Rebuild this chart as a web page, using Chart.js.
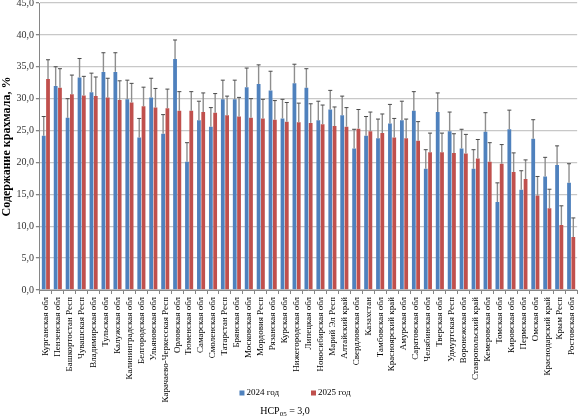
<!DOCTYPE html>
<html>
<head>
<meta charset="utf-8">
<script src="https://cdn.jsdelivr.net/npm/chart.js@4"></script>
<style>
  html, body { margin: 0; padding: 0; background: #fff; }
  #wrap { width: 585px; height: 417px; position: relative; }
</style>
</head>
<body>
<div id="wrap"><canvas id="starch-chart"></canvas></div>
<script>
const categories = [
    'Курганская обл', 'Пензенская обл', 'Башкортостан Респ', 'Чувашская Респ', 'Владимирская обл',
    'Тульская обл', 'Калужская обл', 'Калининградская обл', 'Белгородская обл', 'Ульяновская обл',
    'Карачаево-Черкесская Респ', 'Орловская обл', 'Тюменская обл', 'Самарская обл', 'Смоленская обл',
    'Татарстан Респ', 'Брянская обл', 'Московская обл', 'Мордовия Респ', 'Рязанская обл',
    'Курская обл', 'Нижегородская обл', 'Липецкая обл', 'Новосибирская обл', 'Марий Эл Респ',
    'Алтайский край', 'Свердловская обл', 'Казахстан', 'Тамбовская обл', 'Красноярский край',
    'Амурская обл', 'Саратовская обл', 'Челябинская обл', 'Тверская обл', 'Удмуртская Респ',
    'Воронежская обл', 'Ставропольский край', 'Кемеровская обл', 'Томская обл', 'Кировская обл',
    'Пермская обл', 'Омская обл', 'Краснодарский край', 'Крым Респ', 'Ростовская обл'
];

const values2024 = [
    24.2, 32.0, 27.0, 33.3, 31.0, 34.2, 34.2, 29.9, 23.9, 30.2,
    24.5, 36.2, 20.1, 26.6, 25.6, 29.9, 29.9, 31.8, 32.3, 31.3,
    26.9, 32.4, 31.7, 26.6, 28.3, 27.4, 22.2, 24.2, 23.8, 26.1,
    26.6, 28.1, 19.0, 27.9, 24.9, 22.2, 19.0, 24.8, 13.8, 25.2,
    15.7, 23.7, 17.8, 19.6, 16.8
];

const values2025 = [
    33.1, 31.7, 30.7, 30.5, 30.4, 30.2, 29.8, 29.4, 28.8, 28.6,
    28.5, 28.1, 28.1, 27.9, 27.8, 27.4, 27.2, 27.0, 26.9, 26.7,
    26.4, 26.3, 26.2, 26.0, 25.7, 25.6, 25.3, 24.9, 24.6, 23.9,
    23.8, 23.4, 21.6, 21.6, 21.5, 21.4, 20.6, 20.1, 19.8, 18.5,
    17.4, 14.8, 12.8, 10.2, 8.3
];

// НСР05 - same error bar for every bar
const nsr = 3.0;

const yTicks = [0, 5, 10, 15, 20, 25, 30, 35, 40, 45];

const serif = '"Liberation Serif", "Times New Roman", serif';

// error bars (upper only, like in the excel original)
const errorBars = {
    id: 'errorBars',
    afterDatasetsDraw(chart) {
        const ctx = chart.ctx;
        const y = chart.scales.y;
        ctx.save();
        chart.data.datasets.forEach((ds, i) => {
            const meta = chart.getDatasetMeta(i);
            meta.data.forEach((bar, j) => {
                const top = y.getPixelForValue(ds.data[j] + nsr);
                ctx.strokeStyle = '#8e8e8e';
                ctx.lineWidth = 1.4;
                ctx.beginPath();
                ctx.moveTo(bar.x, bar.y);
                ctx.lineTo(bar.x, top);
                ctx.stroke();
                ctx.strokeStyle = '#4a4a4a';
                ctx.lineWidth = 1;
                ctx.beginPath();
                ctx.moveTo(bar.x - 2, top);
                ctx.lineTo(bar.x + 2, top);
                ctx.stroke();
            });
        });
        ctx.restore();
    }
};

// legend + НСР caption drawn over the bottom (excel puts them there)
const bottomNotes = {
    id: 'bottomNotes',
    afterDraw(chart) {
        const ctx = chart.ctx;
        ctx.save();
        ctx.font = '9px ' + serif;
        ctx.textBaseline = 'middle';
        const gap = 32;
        const items = chart.data.datasets.map(ds => ({
            label: ds.label,
            color: ds.backgroundColor,
            w: 7 + ctx.measureText(ds.label).width
        }));
        let total = items.reduce((s, it) => s + it.w, 0) + gap * (items.length - 1);
        let x = 295 - total / 2;
        const ly = 393;
        items.forEach(it => {
            ctx.fillStyle = it.color;
            ctx.fillRect(x, ly - 2.5, 5, 5);
            ctx.fillStyle = '#000';
            ctx.fillText(it.label, x + 7, ly);
            x += it.w + gap;
        });

        // НСР05 = 3,0
        const ny = 411;
        ctx.font = '10px ' + serif;
        const a = 'НСР', c = ' = ' + nsr.toFixed(1).replace('.', ',');
        const wa = ctx.measureText(a).width;
        const wc = ctx.measureText(c).width;
        ctx.font = '7px ' + serif;
        const b = '05';
        const wb = ctx.measureText(b).width;
        let nx = 285 - (wa + wb + wc) / 2;
        ctx.fillStyle = '#000';
        ctx.font = '10px ' + serif;
        ctx.fillText(a, nx, ny);
        ctx.font = '7px ' + serif;
        ctx.fillText(b, nx + wa, ny + 3);
        ctx.font = '10px ' + serif;
        ctx.fillText(c, nx + wa + wb, ny);
        ctx.restore();
    }
};

const chartCanvas = document.querySelector('#starch-chart');

var starchChart = new Chart(chartCanvas, {
    type: 'bar',
    data: {
        labels: categories,
        datasets: [{
            label: '2024 год',
            data: values2024,
            backgroundColor: '#4f81bd',
            categoryPercentage: 0.72,
            barPercentage: 0.88
        }, {
            label: '2025 год',
            data: values2025,
            backgroundColor: '#c0504d',
            categoryPercentage: 0.72,
            barPercentage: 0.88
        }]
    },
    options: {
        responsive: true,
        maintainAspectRatio: false,
        animation: false,
        layout: {
            padding: { top: 0, right: 2, bottom: 0, left: 0 }
        },
        plugins: {
            legend: { display: false },
            tooltip: { enabled: false }
        },
        scales: {
            x: {
                afterFit(scale) {
                    // long labels run down into the legend zone, as in the original
                    scale.height = 127;
                },
                grid: {
                    display: true,
                    drawOnChartArea: false,
                    tickLength: 4,
                    color: '#868686'
                },
                border: { color: '#868686' },
                ticks: {
                    autoSkip: false,
                    minRotation: 90,
                    maxRotation: 90,
                    padding: 3,
                    color: '#000',
                    font: { family: serif, size: 9 }
                }
            },
            y: {
                min: 0,
                max: 45,
                afterBuildTicks(scale) {
                    scale.ticks = yTicks.map(v => ({ value: v }));
                },
                afterFit(scale) {
                    scale.paddingTop = 3;
                },
                grid: {
                    color: '#c8c8c8',
                    lineWidth: 1.3,
                    tickLength: 4,
                    tickColor: '#868686'
                },
                border: { color: '#868686' },
                ticks: {
                    padding: 2,
                    color: '#333',
                    font: { family: serif, size: 10 },
                    callback: v => v.toFixed(1).replace('.', ',')
                },
                title: {
                    display: true,
                    text: 'Содержание крахмала, %',
                    color: '#000',
                    padding: 0,
                    font: { family: serif, size: 12, weight: 'bold' }
                }
            }
        }
    },
    plugins: [errorBars, bottomNotes]
});
</script>
</body>
</html>
